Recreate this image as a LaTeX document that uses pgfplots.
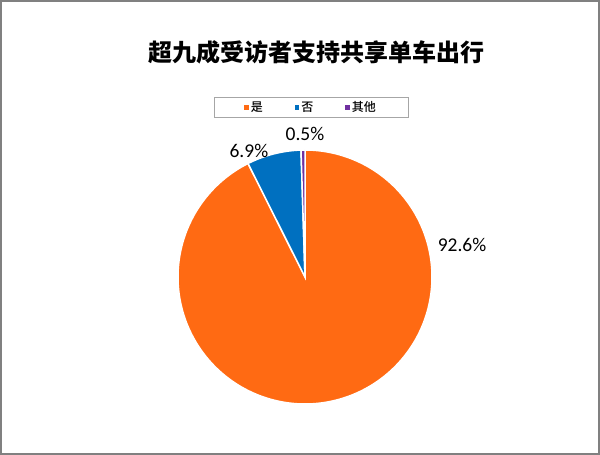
\documentclass[border=0pt]{standalone}
\usepackage{pgfplots}
\pgfplotsset{compat=1.18}
\usepgfplotslibrary{polar}
\usepackage{fontspec}
\setmainfont{Carlito}
\newfontfamily\cjk{Noto Sans CJK SC}
\newfontfamily\cjkmed{Noto Sans CJK SC Medium}

\definecolor{cYes}{HTML}{FF6A13}
\definecolor{cNo}{HTML}{0070C0}
\definecolor{cOther}{HTML}{7030A0}

% shares in percent
\def\pYes{92.6}
\def\pNo{6.9}
\def\pOther{0.5}

\begin{document}
\begin{tikzpicture}
\useasboundingbox (0,0) rectangle (600pt,455pt);
\fill[white] (0,0) rectangle (600pt,455pt);

% slices run clockwise from 12 o'clock
\pgfmathsetmacro\aA{90}
\pgfmathsetmacro\aB{\aA-3.6*\pYes}
\pgfmathsetmacro\aC{\aB-3.6*\pNo}
\pgfmathsetmacro\aD{\aC-3.6*\pOther}

\begin{polaraxis}[
    at={(305pt,178pt)}, anchor=center,
    width=254pt, height=254pt, scale only axis,
    ymin=0, ymax=1,
    hide axis, clip=false,
    legend columns=3,
    legend style={at={(0.524,1.167)}, anchor=center,
        draw=gray!70, line width=0.6pt, inner xsep=30pt, inner ysep=2pt,
        font=\fontsize{12}{13}\cjkmed, /tikz/every even column/.append style={column sep=30pt}},
    legend image code/.code={\fill[#1,draw=none] (0pt,-2pt) rectangle (4.5pt,2.5pt);},
]
\addplot[fill=cYes, draw=white, line width=1.5pt, domain=\aB:\aA, samples=360] {1} -- (axis cs:0,0) -- cycle;
\addlegendentry{是}
\addplot[fill=cNo, draw=white, line width=1.5pt, domain=\aC:\aB, samples=40] {1} -- (axis cs:0,0) -- cycle;
\addlegendentry{否}
\addplot[fill=cOther, draw=white, line width=1.5pt, domain=\aD:\aC, samples=5] {1} -- (axis cs:0,0) -- cycle;
\addlegendentry{其他}

\node[font=\fontsize{19.5}{20}\selectfont] at (axis cs:11.5,1.262) {92.6\%};
\node[font=\fontsize{19.5}{20}\selectfont] at (axis cs:114,1.086) {6.9\%};
\node[font=\fontsize{19.5}{20}\selectfont] at (axis cs:90,1.126) {0.5\%};
\end{polaraxis}

\node[font=\fontsize{24}{26}\cjk\bfseries] at (316pt,403pt) {超九成受访者支持共享单车出行};

\draw[gray, line width=2pt] (1pt,1pt) rectangle (599pt,454pt);
\end{tikzpicture}
\end{document}
